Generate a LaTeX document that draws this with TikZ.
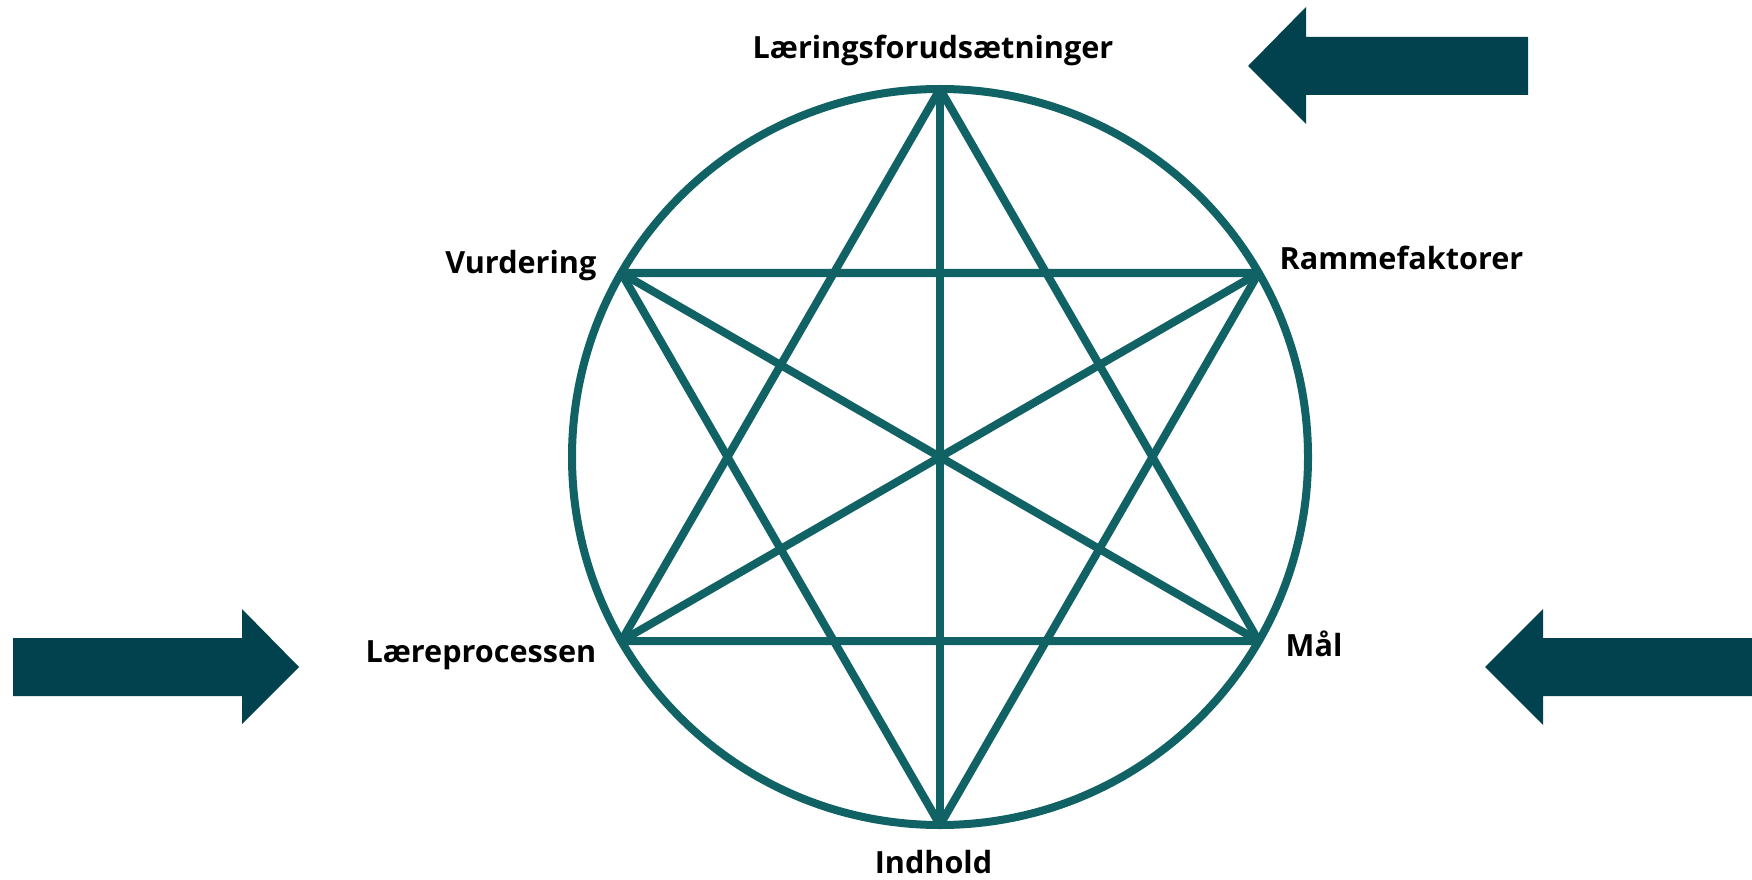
\documentclass[tikz,border=0pt]{standalone}
\usepackage{fontspec}
\setmainfont{Open Sans}
\definecolor{starteal}{HTML}{106264}
\definecolor{arrowteal}{HTML}{02424F}
\tikzset{
  starline/.style={draw=starteal, line width=0.08cm, line join=round},
  lbl/.style={inner sep=0pt, font=\fontsize{8.7}{10}\selectfont\bfseries, text=black},
  bigarrow/.style={fill=arrowteal},
}
\begin{document}
\begin{tikzpicture}[x=0.01cm,y=-0.01cm]
\useasboundingbox (0,0) rectangle (1752,879);
% vertices of the hexagram
\coordinate (C) at (940,457);
\coordinate (T) at (940,89);
\coordinate (B) at (940,825);
\coordinate (UL) at (621.3,273);
\coordinate (UR) at (1258.7,273);
\coordinate (LL) at (621.3,641);
\coordinate (LR) at (1258.7,641);
% circle
\draw[starline] (C) circle [radius=368];
% triangles
\draw[starline] (T) -- (LR) -- (LL) -- cycle;
\draw[starline] (B) -- (UR) -- (UL) -- cycle;
% diameters
\draw[starline] (T) -- (B);
\draw[starline] (UL) -- (LR);
\draw[starline] (UR) -- (LL);
% labels
\node[lbl, anchor=base] (lf) at (933,59) {Læringsforudsætninger};
\node[lbl, anchor=base east] (vu) at (597,273) {Vurdering};
\node[lbl, anchor=base west] (ra) at (1279,269) {Rammefaktorer};
\node[lbl, anchor=base east] (lp) at (597,662) {Læreprocessen};
\node[lbl, anchor=base west] (ma) at (1285,656) {Mål};
\node[lbl, anchor=base] (ih) at (933.5,873) {Indhold};
% block arrows
\fill[bigarrow] (1528,37) -- (1306,37) -- (1306,7) -- (1248,66) -- (1306,124) -- (1306,95) -- (1528,95) -- cycle;
\fill[bigarrow] (13,638) -- (242,638) -- (242,609) -- (299,667) -- (242,724) -- (242,696) -- (13,696) -- cycle;
\fill[bigarrow] (1752,638) -- (1543,638) -- (1543,609) -- (1485,667) -- (1543,725) -- (1543,696) -- (1752,696) -- cycle;
\end{tikzpicture}
\end{document}
